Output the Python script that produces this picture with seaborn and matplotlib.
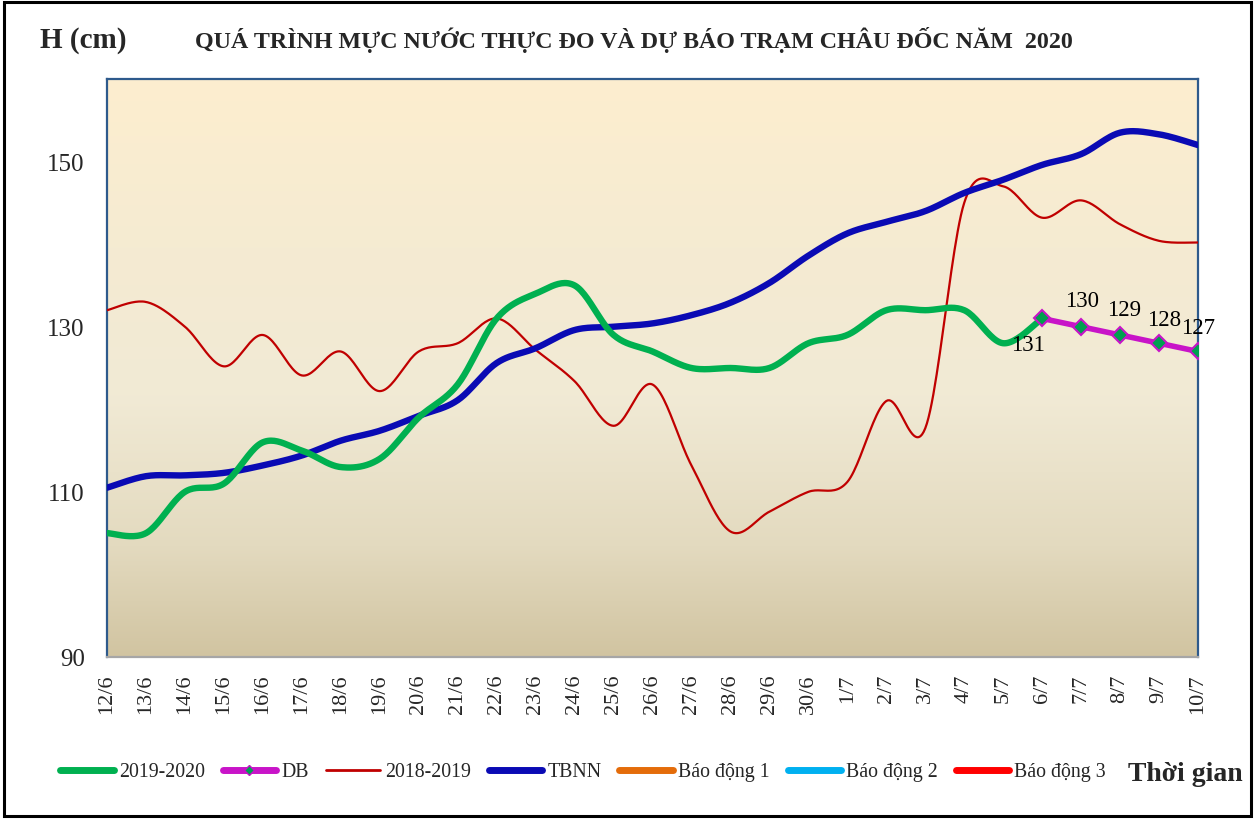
import numpy as np
import pandas as pd
import matplotlib
matplotlib.use("Agg")
import matplotlib.pyplot as plt
import seaborn as sns
from matplotlib.colors import LinearSegmentedColormap
from matplotlib.lines import Line2D
from matplotlib.patches import Rectangle

# ---------------- data ----------------
dates = ["12/6", "13/6", "14/6", "15/6", "16/6", "17/6", "18/6", "19/6", "20/6", "21/6",
         "22/6", "23/6", "24/6", "25/6", "26/6", "27/6", "28/6", "29/6", "30/6", "1/7",
         "2/7", "3/7", "4/7", "5/7", "6/7", "7/7", "8/7", "9/7", "10/7"]

h_2019_2020 = [105, 105, 110, 111, 116, 115, 113, 114, 119, 123,
               131, 134, 135, 129, 127, 125, 125, 125, 128, 129,
               132, 132, 132, 128, 131, None, None, None, None]

h_db = [None] * 24 + [131, 130, 129, 128, 127]

h_2018_2019 = [132, 133, 130, 125.2, 129, 124.1, 127, 122.2, 127, 128,
               131, 127.2, 123.4, 118, 123, 113.2, 105.2, 107.6, 110, 111.2,
               121, 117.7, 145, 147, 143.2, 145.3, 142.4, 140.4, 140.2]

h_tbnn = [110.5, 111.9, 112, 112.3, 113.2, 114.4, 116.2, 117.4, 119.2, 121.1,
          125.6, 127.4, 129.6, 130, 130.4, 131.4, 132.9, 135.3, 138.6, 141.3,
          142.7, 144, 146.2, 147.8, 149.6, 150.9, 153.5, 153.3, 152]

bao_dong_1 = 300
bao_dong_2 = 350
bao_dong_3 = 400

series_labels = ["2019-2020", "DB", "2018-2019", "TBNN", "Báo động 1", "Báo động 2", "Báo động 3"]
y_ticks = [90, 110, 130, 150]

title_text = "QUÁ TRÌNH MỰC NƯỚC THỰC ĐO VÀ DỰ BÁO TRẠM CHÂU ĐỐC NĂM  2020"
y_title = "H (cm)"
x_title = "Thời gian"

# ---------------- helpers ----------------
def smooth_path(xv, yv, n=24):
    """Excel-style smoothed line (Catmull-Rom / Bezier with 1/6 tension) through the given points."""
    pts = np.column_stack([xv, yv]).astype(float)
    if len(pts) < 3:
        return pts[:, 0], pts[:, 1]
    P = np.vstack([pts[0], pts, pts[-1]])
    t = np.linspace(0, 1, n, endpoint=False)[:, None]
    segs = []
    for i in range(1, len(P) - 2):
        p0, p1, p2, p3 = P[i - 1], P[i], P[i + 1], P[i + 2]
        seg = 0.5 * ((2 * p1) + (-p0 + p2) * t + (2 * p0 - 5 * p1 + 4 * p2 - p3) * t ** 2
                     + (-p0 + 3 * p1 - 3 * p2 + p3) * t ** 3)
        segs.append(seg)
    segs.append(pts[-1:])
    out = np.vstack(segs)
    return out[:, 0], out[:, 1]


def valid(values):
    idx = [i for i, v in enumerate(values) if v is not None]
    return np.array(idx, dtype=float), np.array([values[i] for i in idx], dtype=float)


# ---------------- style ----------------
sns.set_theme(style="white")
plt.rcParams["font.family"] = ["Liberation Serif", "DejaVu Serif"]

W, H = 1259, 820
fig = plt.figure(figsize=(W / 100, H / 100), dpi=100)
fig.patch.set_facecolor("white")
ax = fig.add_axes([107 / W, 1 - 658 / H, (1198 - 107) / W, (658 - 80) / H])

# gradient plot-area background
grad_cmap = LinearSegmentedColormap.from_list(
    "bg", [(0.0, "#D1C4A1"), (0.19, "#E3DABF"), (0.45, "#F1EAD5"), (0.71, "#F5EBD2"), (1.0, "#FDEECF")])
grad = np.linspace(0, 1, 256)[:, None]
ax.imshow(grad, cmap=grad_cmap, aspect="auto", origin="lower", extent=(0, 1, 0, 1),
          transform=ax.transAxes, zorder=0, interpolation="bicubic")

x_all = np.arange(len(dates), dtype=float)

# 2018-2019 (thin dark red)
xs, ys = smooth_path(*valid(h_2018_2019))
sns.lineplot(x=xs, y=ys, ax=ax, color="#C00000", linewidth=1.6, sort=False, zorder=3)

# TBNN (thick dark blue)
xs, ys = smooth_path(*valid(h_tbnn))
sns.lineplot(x=xs, y=ys, ax=ax, color="#0A0AB4", linewidth=4.6, sort=False, zorder=4)

# 2019-2020 (thick green)
xs, ys = smooth_path(*valid(h_2019_2020))
sns.lineplot(x=xs, y=ys, ax=ax, color="#00B050", linewidth=4.6, sort=False, zorder=5)

# Alert levels (off the visible range)
for lvl, col in [(bao_dong_1, "#E46C0A"), (bao_dong_2, "#00B0F0"), (bao_dong_3, "#FF0000")]:
    sns.lineplot(x=x_all, y=[lvl] * len(x_all), ax=ax, color=col, linewidth=4, zorder=2)

# DB forecast (magenta with diamonds)
xd, yd = valid(h_db)
sns.lineplot(x=xd, y=yd, ax=ax, color="#C814C8", linewidth=4, marker="D", markersize=8,
             markerfacecolor="#00A050", markeredgecolor="#C814C8", markeredgewidth=1.5, zorder=6)

label_offsets = [(-10, -19), (1, 19), (3, 18), (4, 17), (0, 17)]
for (xi, yi), (dx, dy) in zip(zip(xd, yd), label_offsets):
    ax.annotate(f"{yi:.0f}", (xi, yi), xytext=(dx, dy), textcoords="offset points",
                ha="center", va="center", fontsize=16.5, color="black", zorder=7)

# axes
ax.set_xlim(0, len(dates) - 1)
ax.set_ylim(90, 160)
ax.set_yticks(y_ticks)
ax.set_yticklabels([str(v) for v in y_ticks], fontsize=18)
ax.set_xticks(x_all)
ax.set_xticklabels(dates, rotation=90, fontsize=16)
ax.tick_params(axis="y", length=0, pad=16)
ax.tick_params(axis="x", length=0, pad=12)
ax.set_xlabel("")
ax.set_ylabel("")
for side in ["left", "top", "right"]:
    ax.spines[side].set_color("#2E5A8C")
    ax.spines[side].set_linewidth(1.6)
ax.spines["bottom"].set_color("#A6A6A6")
ax.spines["bottom"].set_linewidth(1.6)
ax.grid(False)

# legend
handles = [
    Line2D([], [], color="#00B050", lw=5),
    Line2D([], [], color="#C814C8", lw=5, marker="D", markersize=5,
           markerfacecolor="#00A050", markeredgecolor="#C814C8"),
    Line2D([], [], color="#C00000", lw=2),
    Line2D([], [], color="#0A0AB4", lw=5),
    Line2D([], [], color="#E46C0A", lw=5),
    Line2D([], [], color="#00B0F0", lw=5),
    Line2D([], [], color="#FF0000", lw=5),
]
fig.legend(handles, series_labels, loc="center", bbox_to_anchor=(583 / W, 1 - 773 / H), ncol=7,
           frameon=False, fontsize=14.3, handlelength=2.7, handletextpad=0.25, columnspacing=0.9)

# titles
fig.text(634 / W, 1 - 40 / H, title_text, ha="center", va="center", fontsize=17.3, fontweight="bold")
fig.text(40 / W, 1 - 40 / H, y_title, ha="left", va="center", fontsize=21, fontweight="bold")
fig.text(1128 / W, 1 - 775 / H, x_title, ha="left", va="center", fontsize=20, fontweight="bold")

# outer frame
fig.add_artist(Rectangle((4 / W, 3 / H), (1251 - 4) / W, (817 - 3) / H, transform=fig.transFigure,
                         fill=False, edgecolor="black", linewidth=2.2))

fig.savefig("out.png", dpi=100)
